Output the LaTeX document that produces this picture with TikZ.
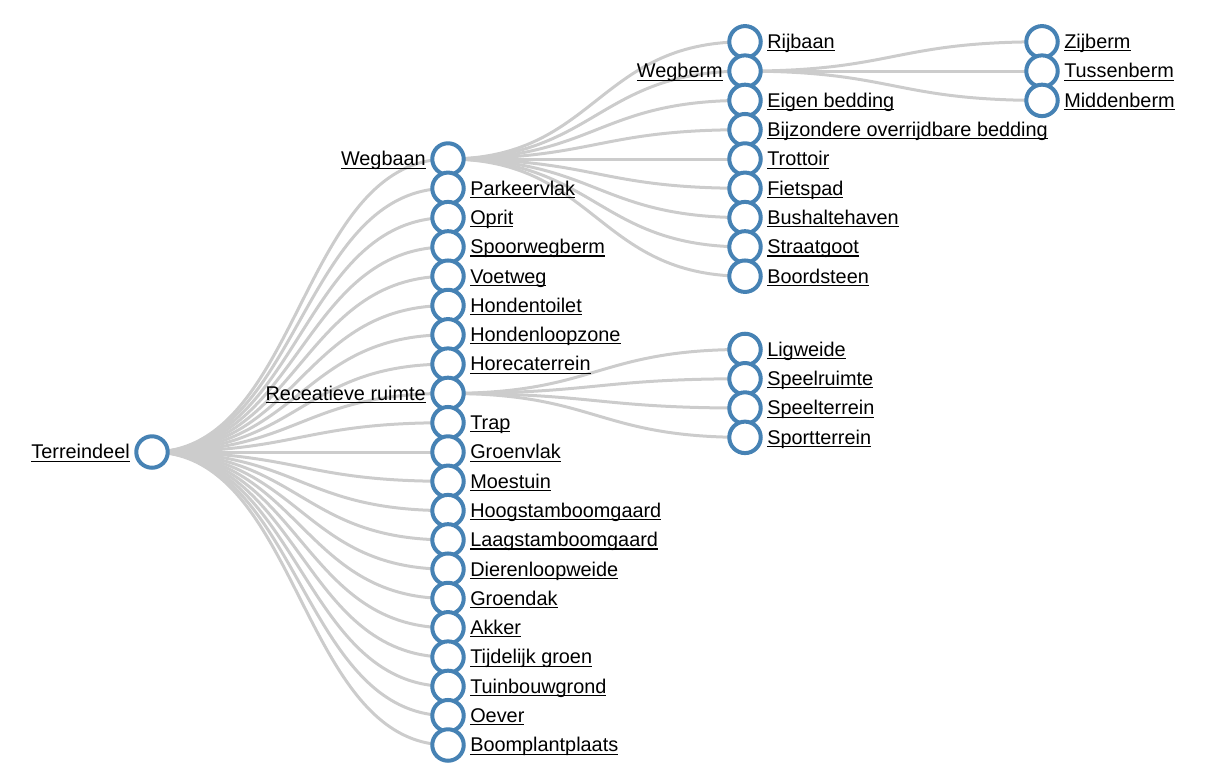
\documentclass[tikz,border=0pt]{standalone}
\usepackage{fontspec}
\setmainfont{Liberation Sans}
\usetikzlibrary{backgrounds}
\definecolor{steel}{HTML}{4682B4}
\definecolor{linkgray}{HTML}{CCCCCC}
\newsavebox{\lnkbox}
\newcommand{\lnk}[1]{\sbox{\lnkbox}{#1}\rlap{\rule[-2.1pt]{\wd\lnkbox}{0.8pt}}\usebox{\lnkbox}}
\tikzstyle{dot} = [circle, draw=steel, line width=3pt, fill=white, minimum size=23.6pt, inner sep=0pt]
\tikzstyle{link} = [draw=linkgray, line width=2.25pt]
\tikzstyle{textright} = [anchor=base west, inner sep=0pt, xshift=16.5pt, yshift=-5.1pt, font=\fontsize{14.9pt}{18pt}\selectfont]
\tikzstyle{textleft} = [anchor=base east, inner sep=0pt, xshift=-16.5pt, yshift=-5.1pt, font=\fontsize{14.9pt}{18pt}\selectfont]

\begin{document}
\begin{tikzpicture}[x=0.75pt, y=-0.75pt]
    \useasboundingbox (0,0) rectangle (1216,779);

    % root
    \node (root) [dot] at (152,452) {};
    \node [textleft] at (root) {\lnk{Terreindeel}};

    % first level
    \foreach \txt/\side [count=\i] in {Wegbaan/left, Parkeervlak/right, Oprit/right, Spoorwegberm/right, Voetweg/right, Hondentoilet/right, Hondenloopzone/right, Horecaterrein/right, Receatieve ruimte/left, Trap/right, Groenvlak/right, Moestuin/right, Hoogstamboomgaard/right, Laagstamboomgaard/right, Dierenloopweide/right, Groendak/right, Akker/right, Tijdelijk groen/right, Tuinbouwgrond/right, Oever/right, Boomplantplaats/right} {
        \node (deel\i) [dot] at (448,{159+(\i-1)*29.3}) {};
        \node [text\side] at (deel\i) {\lnk{\txt}};
    }

    % under Wegbaan
    \foreach \txt/\side [count=\j] in {Rijbaan/right, Wegberm/left, Eigen bedding/right, Bijzondere overrijdbare bedding/right, Trottoir/right, Fietspad/right, Bushaltehaven/right, Straatgoot/right, Boordsteen/right} {
        \node (baan\j) [dot] at (745,{159+(\j-5)*29.3}) {};
        \node [text\side] at (baan\j) {\lnk{\txt}};
    }

    % under Wegberm
    \foreach \txt [count=\k] in {Zijberm, Tussenberm, Middenberm} {
        \node (berm\k) [dot] at (1042,{159-3*29.3+(\k-2)*29.3}) {};
        \node [textright] at (berm\k) {\lnk{\txt}};
    }

    % under Receatieve ruimte
    \foreach \txt [count=\k] in {Ligweide, Speelruimte, Speelterrein, Sportterrein} {
        \node (ruimte\k) [dot] at (745,{159+8*29.3+(\k-2.5)*29.3}) {};
        \node [textright] at (ruimte\k) {\lnk{\txt}};
    }

    % links
    \begin{scope}[on background layer]
        \foreach \i in {1,...,21}
            \draw [link] (root.center) .. controls +(148,0) and +(-148,0) .. (deel\i.center);
        \foreach \j in {1,...,9}
            \draw [link] (deel1.center) .. controls +(148,0) and +(-148,0) .. (baan\j.center);
        \foreach \k in {1,2,3}
            \draw [link] (baan2.center) .. controls +(148,0) and +(-148,0) .. (berm\k.center);
        \foreach \k in {1,...,4}
            \draw [link] (deel9.center) .. controls +(148,0) and +(-148,0) .. (ruimte\k.center);
    \end{scope}
\end{tikzpicture}
\end{document}
